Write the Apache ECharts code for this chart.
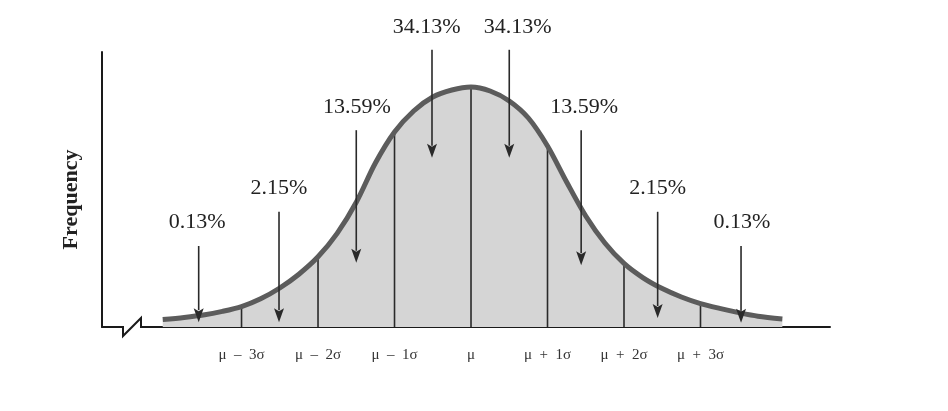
<!DOCTYPE html>
<html>
<head>
<meta charset="utf-8">
<script src="https://cdn.jsdelivr.net/npm/echarts@6/dist/echarts.min.js"></script>
<style>
  html, body { margin: 0; padding: 0; background: #ffffff; }
  #chart { width: 948px; height: 411px; }
</style>
</head>
<body>
<div id="chart"></div>
<script>
// ---- data (x in units of sigma from the mean, y = relative frequency) ----
const xLabels = ['μ  –  3σ', 'μ  –  2σ', 'μ  –  1σ', 'μ', 'μ  +  1σ', 'μ  +  2σ', 'μ  +  3σ'];
const sigmaPos = [-3, -2, -1, 0, 1, 2, 3];
const sigmaHeights = [0.034, 0.117, 0.325, 0.400, 0.302, 0.106, 0.039];

const curveX = [-4.03, -3.75, -3.5, -3.25, -3.0, -2.75, -2.5, -2.25, -2.0, -1.75, -1.5, -1.25, -1.0, -0.75, -0.5, -0.25, 0,
                0.25, 0.5, 0.75, 1.0, 1.25, 1.5, 1.75, 2.0, 2.25, 2.5, 2.75, 3.0, 3.25, 3.5, 3.75, 4.07];
const curveY = [0.0125, 0.016, 0.020, 0.026, 0.034, 0.047, 0.065, 0.088, 0.117, 0.156, 0.208, 0.2733, 0.325, 0.360, 0.3833, 0.395, 0.400,
                0.3933, 0.3767, 0.3483, 0.3017, 0.2417, 0.185, 0.140, 0.106, 0.082, 0.064, 0.050, 0.039, 0.031, 0.024, 0.018, 0.0133];

const pctLabels = ['0.13%', '2.15%', '13.59%', '34.13%', '34.13%', '13.59%', '2.15%', '0.13%'];
const arrowX   = [-3.56, -2.51, -1.50, -0.51, 0.50, 1.44, 2.44, 3.53];
const arrowTop = [0.135, 0.192, 0.328, 0.462, 0.462, 0.328, 0.192, 0.135];
const arrowTip = [0.008, 0.008, 0.107, 0.282, 0.282, 0.103, 0.015, 0.007];
const labelX   = [-3.58, -2.51, -1.49, -0.58, 0.61, 1.48, 2.44, 3.54];
const labelY   = [0.175, 0.232, 0.367, 0.500, 0.500, 0.367, 0.232, 0.175];

const xMin = -4.824, xMax = 4.693, yMax = 0.4583;

const curveData = curveX.map((x, i) => [x, curveY[i]]);
const sigmaData = sigmaPos.map((x, i) => [x, sigmaHeights[i]]);
const arrowData = arrowX.map((x, i) => [x, arrowTop[i], arrowTip[i]]);

const chart = echarts.init(document.getElementById('chart'), null, { renderer: 'canvas' });

const serif = 'Liberation Serif, Times New Roman, serif';

chart.setOption({
  animation: false,
  backgroundColor: '#ffffff',
  grid: { left: 102, right: 118, top: 52, bottom: 84 },
  xAxis: {
    type: 'value', min: xMin, max: xMax,
    axisLine: { show: true, onZero: false, lineStyle: { color: '#1a1a1a', width: 2 } },
    axisTick: { show: false },
    splitLine: { show: false },
    axisLabel: {
      customValues: sigmaPos,
      formatter: v => xLabels[sigmaPos.indexOf(Math.round(v))] || '',
      fontFamily: serif, fontSize: 15, color: '#333', margin: 21
    }
  },
  yAxis: {
    type: 'value', min: 0, max: yMax,
    name: 'Frequency', nameLocation: 'middle', nameGap: 20,
    nameTextStyle: { fontFamily: serif, fontWeight: 'bold', fontSize: 22, color: '#222', padding: [0, 20, 0, 0] },
    axisLine: { show: true, onZero: false, lineStyle: { color: '#1a1a1a', width: 2 } },
    axisTick: { show: false },
    axisLabel: { show: false },
    splitLine: { show: false }
  },
  series: [
    {
      type: 'line', data: curveData, smooth: 0.3, symbol: 'none', z: 1,
      lineStyle: { width: 0, color: 'transparent' },
      areaStyle: { color: '#d5d5d5', opacity: 1 }
    },
    {
      type: 'custom', data: sigmaData, z: 2, clip: false,
      encode: { x: 0, y: 1 },
      renderItem: (params, api) => {
        const b = api.coord([api.value(0), 0]);
        const t = api.coord([api.value(0), api.value(1)]);
        return { type: 'line', shape: { x1: b[0], y1: b[1], x2: t[0], y2: t[1] },
                 style: { stroke: '#2a2a2a', lineWidth: 1.6 } };
      }
    },
    {
      type: 'line', data: curveData, smooth: 0.3, symbol: 'none', z: 3,
      lineStyle: { width: 5, color: '#5c5c5c' }
    },
    {
      type: 'custom', data: arrowData, z: 4, clip: false,
      encode: { x: 0, y: [1, 2] },
      renderItem: (params, api) => {
        const i = params.dataIndex;
        const top = api.coord([api.value(0), api.value(1)]);
        const tip = api.coord([api.value(0), api.value(2)]);
        const lab = api.coord([labelX[i], labelY[i]]);
        const hl = 14, hw = 5;
        return {
          type: 'group',
          children: [
            { type: 'line', shape: { x1: top[0], y1: top[1], x2: tip[0], y2: tip[1] - hl + 2 },
              style: { stroke: '#2a2a2a', lineWidth: 1.6 } },
            { type: 'polygon',
              shape: { points: [[tip[0] - hw, tip[1] - hl], [tip[0], tip[1] - hl + 3], [tip[0] + hw, tip[1] - hl], [tip[0], tip[1]]] },
              style: { fill: '#2a2a2a' } },
            { type: 'text', x: lab[0], y: lab[1],
              style: { text: pctLabels[i], fontFamily: serif, fontSize: 22, fill: '#222',
                       align: 'center', verticalAlign: 'middle' } }
          ]
        };
      }
    }
  ]
});

// axis break mark on the x axis
const p0 = chart.convertToPixel({ gridIndex: 0 }, [xMin, 0]);
chart.setOption({
  graphic: [
    { type: 'rect', z: 100, shape: { x: p0[0] + 22, y: p0[1] - 3, width: 17, height: 6 },
      style: { fill: '#ffffff' } },
    { type: 'polyline', z: 101,
      shape: { points: [[p0[0] + 21, p0[1]], [p0[0] + 21, p0[1] + 9], [p0[0] + 39, p0[1] - 9], [p0[0] + 39, p0[1]], [p0[0] + 42, p0[1]]] },
      style: { stroke: '#1a1a1a', lineWidth: 2, fill: null } }
  ]
});
</script>
</body>
</html>
